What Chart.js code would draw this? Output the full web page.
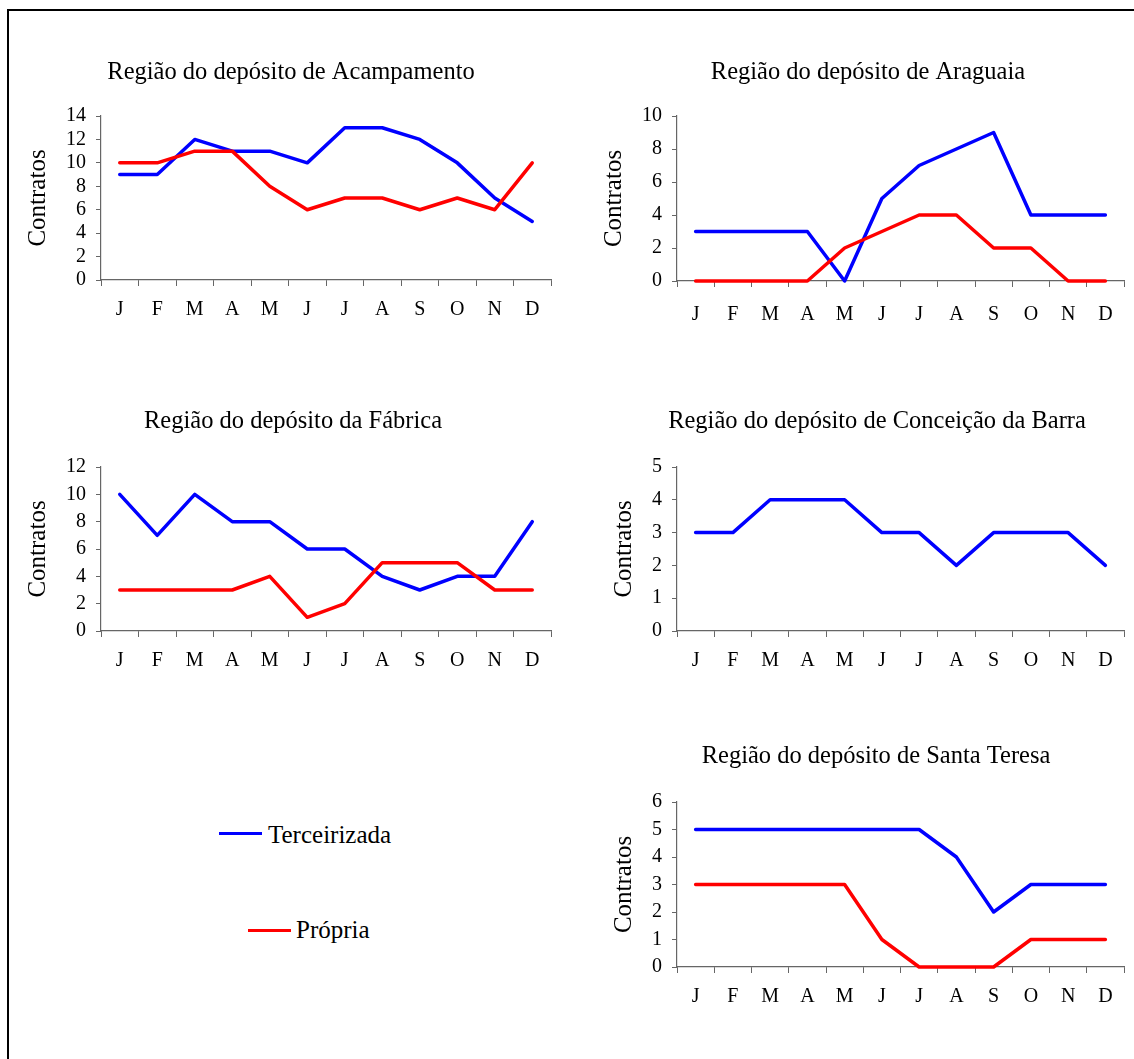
<!DOCTYPE html>
<html>
<head>
<meta charset="utf-8">
<script src="https://cdn.jsdelivr.net/npm/chart.js@4.4.1/dist/chart.umd.min.js"></script>
<style>
  html, body { margin:0; padding:0; background:#fff; width:1134px; height:1059px; overflow:hidden; }
  #frame { position:absolute; left:7px; top:9px; width:2000px; height:2000px; border-left:2px solid #000; border-top:2px solid #000; }
  canvas { position:absolute; }
  .lg-line { position:absolute; height:3.5px; }
  .lg-text { position:absolute; font-family:'Times New Roman','Liberation Serif',serif; font-size:25px; line-height:25px; color:#000; white-space:nowrap; }
</style>
</head>
<body>
<div id="frame"></div>
<canvas id="c1"></canvas>
<canvas id="c2"></canvas>
<canvas id="c3"></canvas>
<canvas id="c4"></canvas>
<canvas id="c5"></canvas>
<div class="lg-line" style="left:219px; top:831.5px; width:43px; background:#0000ff;"></div>
<div class="lg-text" style="left:268px; top:822px;">Terceirizada</div>
<div class="lg-line" style="left:248px; top:928.5px; width:43px; background:#ff0000;"></div>
<div class="lg-text" style="left:296px; top:917px;">Própria</div>
<script>
// ---- data ----
const months = ['J','F','M','A','M','J','J','A','S','O','N','D'];
const seriesNames = ['Terceirizada', 'Própria'];

const acampamentoTerc = [9, 9, 12, 11, 11, 10, 13, 13, 12, 10, 7, 5];
const acampamentoProp = [10, 10, 11, 11, 8, 6, 7, 7, 6, 7, 6, 10];

const araguaiaTerc = [3, 3, 3, 3, 0, 5, 7, 8, 9, 4, 4, 4];
const araguaiaProp = [0, 0, 0, 0, 2, 3, 4, 4, 2, 2, 0, 0];

const fabricaTerc = [10, 7, 10, 8, 8, 6, 6, 4, 3, 4, 4, 8];
const fabricaProp = [3, 3, 3, 3, 4, 1, 2, 5, 5, 5, 3, 3];

const conceicaoTerc = [3, 3, 4, 4, 4, 3, 3, 2, 3, 3, 3, 2];

const santaTeresaTerc = [5, 5, 5, 5, 5, 5, 5, 4, 2, 3, 3, 3];
const santaTeresaProp = [3, 3, 3, 3, 3, 1, 0, 0, 0, 1, 1, 1];

const titles = [
  'Região do depósito de Acampamento',
  'Região do depósito de Araguaia',
  'Região do depósito da Fábrica',
  'Região do depósito de Conceição da Barra',
  'Região do depósito de Santa Teresa'
];
const yAxisTitle = 'Contratos';
const yMaxes = [14, 10, 12, 5, 6];
const ySteps = [2, 2, 2, 1, 1];

// ---- styling / layout ----
const FONT = "'Times New Roman', 'Liberation Serif', serif";
const AXIS = '#666666';
const BLUE = '#0000ff';
const RED = '#ff0000';

function ds(name, data, color, order) {
  return { label: name, data: data, borderColor: color, backgroundColor: color,
    borderWidth: 3.5, pointRadius: 0, pointHoverRadius: 0, tension: 0,
    borderJoinStyle: 'round', borderCapStyle: 'round', fill: false, clip: false, order: order };
}

function build(id, g, title, yMax, yStep, datasets) {
  const cv = document.getElementById(id);
  cv.width = g.cw; cv.height = g.ch;
  cv.style.left = g.cx + 'px'; cv.style.top = g.cy + 'px';
  cv.style.width = g.cw + 'px'; cv.style.height = g.ch + 'px';
  const tSize = 24.5, tLH = tSize * 1.2;
  const aSize = 25, aLH = aSize * 1.2;
  const padL = 2 * g.titleX - g.right - g.cx;
  const padR = g.cw - (g.right - g.cx);
  const tPadTop = g.titleY - g.cy - tLH / 2;
  const tPadBottom = g.top - g.cy - tPadTop - tLH;
  const scaleLeft = g.cx + padL;
  const aPadTop = g.axisTitleX - scaleLeft - aLH / 2;
  new Chart(cv, {
    type: 'line',
    data: { labels: months, datasets: datasets },
    options: {
      responsive: false, animation: false, devicePixelRatio: 1,
      layout: { padding: { left: padL, right: padR, top: 0, bottom: 0 } },
      plugins: {
        legend: { display: false },
        tooltip: { enabled: false },
        title: { display: true, text: title, color: '#000', align: 'center',
          font: { family: FONT, size: tSize, weight: 'normal', lineHeight: 1.2 },
          padding: { top: tPadTop, bottom: tPadBottom } }
      },
      scales: {
        x: {
          type: 'category', offset: true,
          grid: { offset: true, drawOnChartArea: false, drawTicks: true, tickLength: 6, color: AXIS, lineWidth: 1 },
          border: { display: true, color: AXIS, width: 1.2 },
          ticks: { color: '#000', font: { family: FONT, size: 20 }, padding: g.xPad, maxRotation: 0, autoSkip: false },
          afterFit: (s) => { s.height = g.ch - (g.bottom - g.cy); }
        },
        y: {
          min: 0, max: yMax,
          grid: { drawOnChartArea: false, drawTicks: true, tickLength: 5, color: AXIS, lineWidth: 1 },
          border: { display: true, color: AXIS, width: 1.2 },
          ticks: { stepSize: yStep, autoSkip: false, color: '#000', font: { family: FONT, size: 20 }, padding: 10 },
          title: { display: true, text: yAxisTitle, color: '#000',
            font: { family: FONT, size: aSize, weight: 'normal', lineHeight: 1.2 },
            padding: { top: aPadTop, bottom: 0 } },
          afterFit: (s) => { s.width = g.left - scaleLeft; }
        }
      }
    }
  });
}

build('c1', { cx: 10, cy: 40, cw: 570, ch: 300, left: 101, right: 551, top: 116, bottom: 280, titleX: 291, titleY: 73, axisTitleX: 38, xPad: 12 },
  titles[0], yMaxes[0], ySteps[0],
  [ds(seriesNames[0], acampamentoTerc, BLUE, 1), ds(seriesNames[1], acampamentoProp, RED, 0)]);

build('c2', { cx: 590, cy: 40, cw: 544, ch: 300, left: 677, right: 1124, top: 116, bottom: 281, titleX: 868, titleY: 73, axisTitleX: 614, xPad: 16 },
  titles[1], yMaxes[1], ySteps[1],
  [ds(seriesNames[0], araguaiaTerc, BLUE, 1), ds(seriesNames[1], araguaiaProp, RED, 0)]);

build('c3', { cx: 10, cy: 390, cw: 570, ch: 300, left: 101, right: 551, top: 467, bottom: 631, titleX: 293, titleY: 422, axisTitleX: 38, xPad: 12 },
  titles[2], yMaxes[2], ySteps[2],
  [ds(seriesNames[0], fabricaTerc, BLUE, 1), ds(seriesNames[1], fabricaProp, RED, 0)]);

build('c4', { cx: 590, cy: 390, cw: 544, ch: 300, left: 677, right: 1124, top: 467, bottom: 631, titleX: 877, titleY: 422, axisTitleX: 624, xPad: 12 },
  titles[3], yMaxes[3], ySteps[3],
  [ds(seriesNames[0], conceicaoTerc, BLUE, 1)]);

build('c5', { cx: 590, cy: 725, cw: 544, ch: 310, left: 677, right: 1124, top: 802, bottom: 967, titleX: 876, titleY: 757, axisTitleX: 624, xPad: 12 },
  titles[4], yMaxes[4], ySteps[4],
  [ds(seriesNames[0], santaTeresaTerc, BLUE, 1), ds(seriesNames[1], santaTeresaProp, RED, 0)]);
</script>
</body>
</html>
